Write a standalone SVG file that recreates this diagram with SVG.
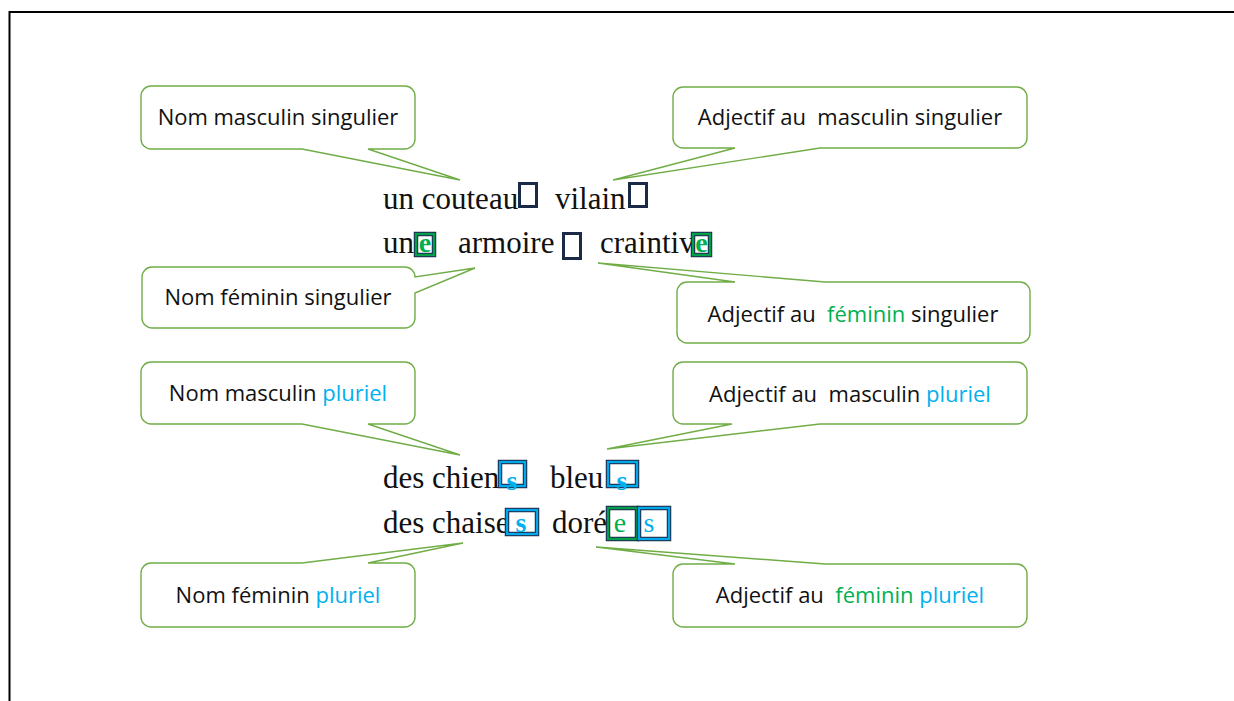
<svg xmlns="http://www.w3.org/2000/svg" width="1234" height="701" viewBox="0 0 1234 701">
<style>
.co{fill:#fff;stroke:#70ad47;stroke-width:1.4;stroke-linejoin:miter}
.ct{font-family:"Open Sans","Noto Sans","Liberation Sans",sans-serif;font-size:22px;fill:#111;text-anchor:middle}
.fem{fill:#00b050}
.plu{fill:#00b0f0}
.w{font-family:"Liberation Serif","Times New Roman",serif;font-size:31px;fill:#111}
.tofu{fill:#fff;stroke:#1b2a47;stroke-width:3}
.outer{fill:#fff;stroke:#1f3354;stroke-width:4.5}
.ig{fill:none;stroke:#00a04a;stroke-width:2.2}
.ib{fill:none;stroke:#00a8ec;stroke-width:2.2}
.lg{font-family:"Liberation Serif","Times New Roman",serif;font-size:28px;fill:#00b050;text-anchor:middle}
.lb{font-family:"Liberation Serif","Times New Roman",serif;font-size:28px;fill:#00b0f0;text-anchor:middle}
</style>
<rect width="1234" height="701" fill="#fff"/>
<path d="M9.5,701 V12 H1234" fill="none" stroke="#000" stroke-width="2"/>

<g id="connectors"/>

<g id="c1">
<path class="co" d="M151,86 H405 A10,10 0 0 1 415,96 V139 A10,10 0 0 1 405,149 H368 L460,180 L302,149 H151 A10,10 0 0 1 141,139 V96 A10,10 0 0 1 151,86 Z"/>
<text class="ct" x="278" y="125">Nom masculin singulier</text>
</g>
<g id="c2">
<path class="co" d="M683,87 H1017 A10,10 0 0 1 1027,97 V138 A10,10 0 0 1 1017,148 H820 L613,180 L735,148 H683 A10,10 0 0 1 673,138 V97 A10,10 0 0 1 683,87 Z"/>
<text class="ct" x="850" y="125" xml:space="preserve">Adjectif au  masculin singulier</text>
</g>
<g id="c3">
<path class="co" d="M152,267 H405 A10,10 0 0 1 415,277 L475,268 L415,293 V318 A10,10 0 0 1 405,328 H152 A10,10 0 0 1 142,318 V277 A10,10 0 0 1 152,267 Z"/>
<text class="ct" x="278" y="305">Nom féminin singulier</text>
</g>
<g id="c4">
<path class="co" d="M687,282 H735 L598,263 L825,282 H1020 A10,10 0 0 1 1030,292 V333 A10,10 0 0 1 1020,343 H687 A10,10 0 0 1 677,333 V292 A10,10 0 0 1 687,282 Z"/>
<text class="ct" x="853" y="322" xml:space="preserve">Adjectif au  <tspan class="fem">féminin</tspan> singulier</text>
</g>
<g id="c5">
<path class="co" d="M151,362 H405 A10,10 0 0 1 415,372 V414 A10,10 0 0 1 405,424 H368 L460,455 L302,424 H151 A10,10 0 0 1 141,414 V372 A10,10 0 0 1 151,362 Z"/>
<text class="ct" x="278" y="401">Nom masculin <tspan class="plu">pluriel</tspan></text>
</g>
<g id="c6">
<path class="co" d="M683,362 H1017 A10,10 0 0 1 1027,372 V414 A10,10 0 0 1 1017,424 H820 L607,449 L732,424 H683 A10,10 0 0 1 673,414 V372 A10,10 0 0 1 683,362 Z"/>
<text class="ct" x="850" y="402" xml:space="preserve">Adjectif au  masculin <tspan class="plu">pluriel</tspan></text>
</g>
<g id="c7">
<path class="co" d="M151,563 H302 L463,543 L368,563 H405 A10,10 0 0 1 415,573 V617 A10,10 0 0 1 405,627 H151 A10,10 0 0 1 141,617 V573 A10,10 0 0 1 151,563 Z"/>
<text class="ct" x="278" y="603">Nom féminin <tspan class="plu">pluriel</tspan></text>
</g>
<g id="c8">
<path class="co" d="M683,564 H735 L596,547 L825,564 H1017 A10,10 0 0 1 1027,574 V617 A10,10 0 0 1 1017,627 H683 A10,10 0 0 1 673,617 V574 A10,10 0 0 1 683,564 Z"/>
<text class="ct" x="850" y="603" xml:space="preserve">Adjectif au  <tspan class="fem">féminin</tspan> <tspan class="plu">pluriel</tspan></text>
</g>

<g id="line1">
<text class="w" x="383" y="209">un couteau</text>
<rect class="tofu" x="519.5" y="183.5" width="17" height="23"/>
<text class="w" x="555" y="209">vilain</text>
<rect class="tofu" x="629.5" y="183.5" width="17" height="23"/>
</g>
<g id="line2">
<text class="w" x="383" y="253">un</text>
<rect class="outer" x="416" y="234" width="18" height="21"/>
<rect class="ig" x="416" y="234" width="18" height="21"/>
<text class="lg" x="425" y="252" font-weight="bold">e</text>
<text class="w" x="458" y="253">armoire</text>
<rect class="tofu" x="563.5" y="233.5" width="17" height="25"/>
<text class="w" x="600" y="253">craintiv</text>
<rect class="outer" x="693" y="234" width="17" height="21"/>
<rect class="ig" x="693" y="234" width="17" height="21"/>
<text class="lg" x="701.5" y="252" font-weight="bold">e</text>
</g>
<g id="line3">
<text class="w" x="383" y="488">des chien</text>
<rect class="outer" x="500" y="462" width="25" height="24"/>
<rect class="ib" x="500" y="462" width="25" height="24"/>
<text class="lb" x="512" y="490" font-weight="bold">s</text>
<text class="w" x="550" y="488">bleu</text>
<rect class="outer" x="608" y="462" width="29" height="24"/>
<rect class="ib" x="608" y="462" width="29" height="24"/>
<text class="lb" x="622" y="490" font-weight="bold">s</text>
</g>
<g id="line4">
<text class="w" x="383" y="533">des chaise</text>
<rect class="outer" x="507" y="510" width="30" height="24"/>
<rect class="ib" x="507" y="510" width="30" height="24"/>
<text class="lb" x="521" y="532" font-weight="bold">s</text>
<text class="w" x="552" y="533">doré</text>
<rect class="outer" x="608" y="508" width="29" height="31"/>
<rect class="ig" x="608" y="508" width="29" height="31"/>
<text class="lg" x="620" y="532">e</text>
<rect class="outer" x="639" y="508" width="30" height="31"/>
<rect class="ib" x="639" y="508" width="30" height="31"/>
<text class="lb" x="649" y="532">s</text>
</g>
</svg>
